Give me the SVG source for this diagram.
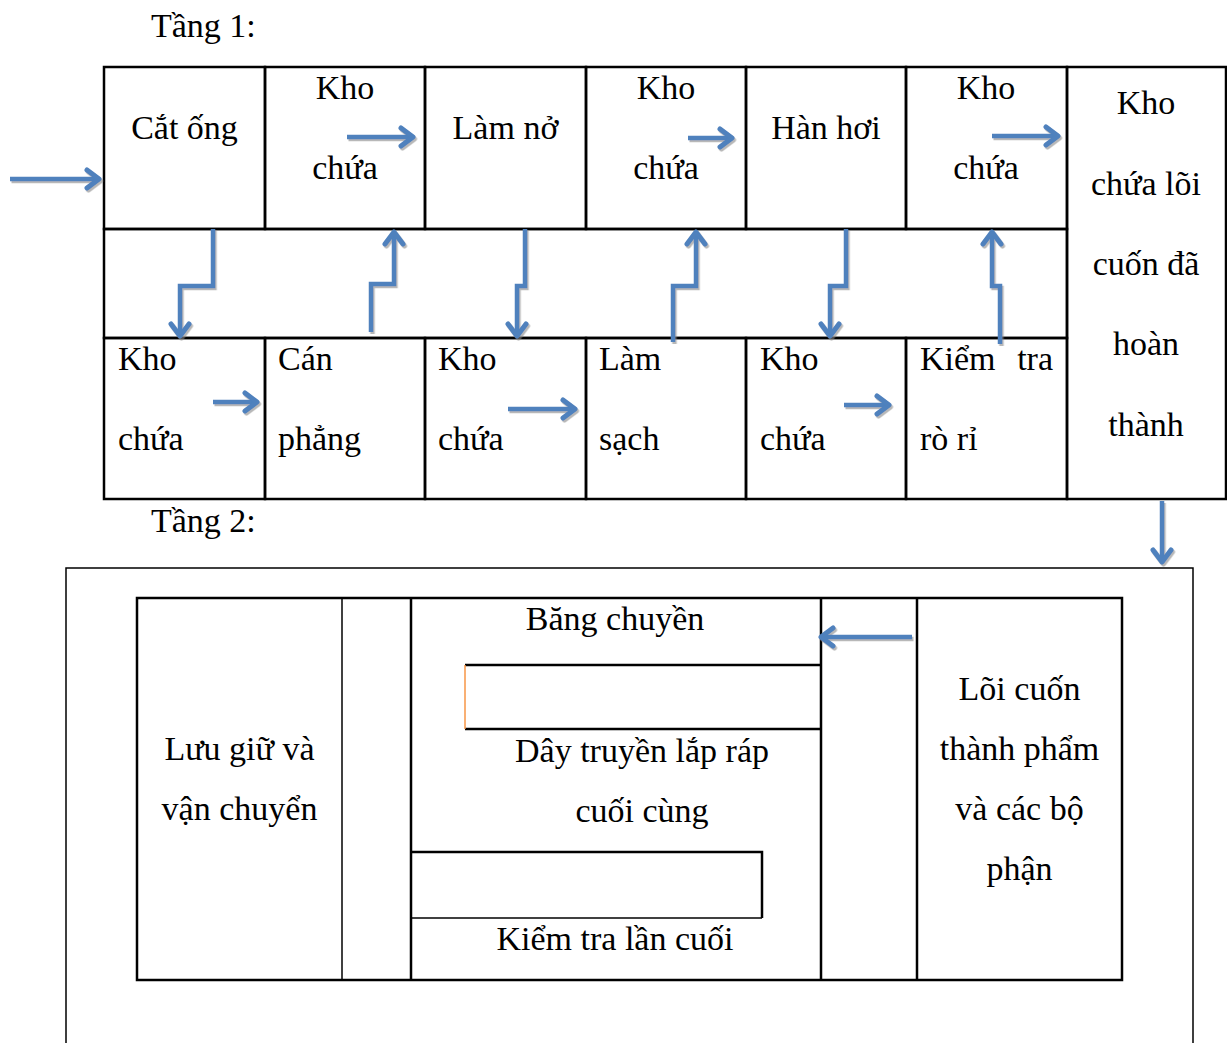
<svg xmlns="http://www.w3.org/2000/svg" width="1227" height="1043" viewBox="0 0 1227 1043">
<style>
text{font-family:"Liberation Serif","Times New Roman",serif;font-size:34px;fill:#000}
.c{text-anchor:middle}
.e{text-anchor:end}
.cell{fill:none;stroke:#000;stroke-width:2.5}
.thin{fill:none;stroke:#000;stroke-width:1.5}
.arr{fill:none;stroke:#4F81BD;stroke-width:4.5;marker-end:url(#ah)}
</style>
<defs>
<marker id="ah" markerUnits="userSpaceOnUse" markerWidth="40" markerHeight="40" refX="0" refY="0" orient="auto" overflow="visible">
<path d="M-12,-9 L0,0 L-12,9" fill="none" stroke="#4F81BD" stroke-width="5" stroke-linecap="round" stroke-linejoin="round"/>
</marker>
<filter id="sh" filterUnits="userSpaceOnUse" x="0" y="0" width="1227" height="1043">
<feDropShadow dx="1.5" dy="2" stdDeviation="0.6" flood-color="#888" flood-opacity="0.6"/>
</filter>
</defs>
<rect width="1227" height="1043" fill="#fff"/>

<text id="t1" x="151" y="37">Tầng 1:</text>
<text id="t2" x="151" y="532">Tầng 2:</text>

<g id="cat-ong"><rect class="cell" x="104" y="67" width="161" height="162"/><text class="c" x="184.5" y="139">Cắt ống</text></g>
<g id="kho1"><rect class="cell" x="265" y="67" width="160" height="162"/><text class="c" x="345" y="99">Kho</text><text class="c" x="345" y="179">chứa</text></g>
<g id="lam-no"><rect class="cell" x="425" y="67" width="161" height="162"/><text class="c" x="505.5" y="139">Làm nở</text></g>
<g id="kho2"><rect class="cell" x="586" y="67" width="160" height="162"/><text class="c" x="666" y="99">Kho</text><text class="c" x="666" y="179">chứa</text></g>
<g id="han-hoi"><rect class="cell" x="746" y="67" width="160" height="162"/><text class="c" x="826" y="139">Hàn hơi</text></g>
<g id="kho3"><rect class="cell" x="906" y="67" width="161" height="162"/><text class="c" x="986" y="99">Kho</text><text class="c" x="986" y="179">chứa</text></g>
<g id="strip"><rect class="cell" x="104" y="229" width="963" height="109"/></g>
<g id="kho-loi"><rect class="cell" x="1067" y="67" width="159" height="432"/>
<text class="c" x="1146" y="114">Kho</text><text class="c" x="1146" y="195">chứa lõi</text><text class="c" x="1146" y="275">cuốn đã</text><text class="c" x="1146" y="355">hoàn</text><text class="c" x="1146" y="436">thành</text></g>

<g id="kho4"><rect class="cell" x="104" y="338" width="161" height="161"/><text x="118" y="370">Kho</text><text x="118" y="450">chứa</text></g>
<g id="can-phang"><rect class="cell" x="265" y="338" width="160" height="161"/><text x="278" y="370">Cán</text><text x="278" y="450">phẳng</text></g>
<g id="kho5"><rect class="cell" x="425" y="338" width="161" height="161"/><text x="438" y="370">Kho</text><text x="438" y="450">chứa</text></g>
<g id="lam-sach"><rect class="cell" x="586" y="338" width="160" height="161"/><text x="599" y="370">Làm</text><text x="599" y="450">sạch</text></g>
<g id="kho6"><rect class="cell" x="746" y="338" width="160" height="161"/><text x="760" y="370">Kho</text><text x="760" y="450">chứa</text></g>
<g id="kiem-tra"><rect class="cell" x="906" y="338" width="161" height="161"/><text x="920" y="370">Kiểm</text><text class="e" x="1053" y="370">tra</text><text x="920" y="450">rò rỉ</text></g>

<g id="tang2">
<path class="thin" d="M66,1043 V568 H1193 V1043"/>
<rect class="cell" x="137" y="598" width="985" height="382"/>
<line class="thin" x1="342" y1="598" x2="342" y2="980"/>
<line class="cell" x1="411" y1="598" x2="411" y2="980"/>
<line class="cell" x1="821" y1="598" x2="821" y2="980"/>
<line class="cell" x1="917" y1="598" x2="917" y2="980"/>
</g>
<g id="luu-giu"><text class="c" x="239.5" y="760">Lưu giữ và</text><text class="c" x="239.5" y="820">vận chuyển</text></g>
<g id="bang-chuyen"><text class="c" x="615" y="630">Băng chuyền</text>
<line class="cell" x1="465" y1="665" x2="821" y2="665"/><line class="cell" x1="465" y1="729" x2="821" y2="729"/>
<line x1="465" y1="665" x2="465" y2="729" stroke="#F79646" stroke-width="1.5"/></g>
<g id="day-truyen"><text class="c" x="642" y="762">Dây truyền lắp ráp</text><text class="c" x="642" y="822">cuối cùng</text></g>
<g id="kiem-tra-cuoi"><path class="cell" d="M411,852 H762 V918"/><line class="thin" x1="411" y1="918" x2="762" y2="918"/>
<text class="c" x="615" y="950">Kiểm tra lần cuối</text></g>
<g id="loi-cuon"><text class="c" x="1019.5" y="700">Lõi cuốn</text><text class="c" x="1019.5" y="760">thành phẩm</text><text class="c" x="1019.5" y="820">và các bộ</text><text class="c" x="1019.5" y="880">phận</text></g>

<g id="connectors" filter="url(#sh)">
<path class="arr" d="M10,179 H99"/>
<path class="arr" d="M347,137 H413"/>
<path class="arr" d="M688,138 H732"/>
<path class="arr" d="M992,136 H1058"/>
<path class="arr" d="M213,402 H257"/>
<path class="arr" d="M508,409 H575"/>
<path class="arr" d="M844,405 H889"/>
<path class="arr" d="M213,229 V286 H180 V336"/>
<path class="arr" d="M371,332 V284 H394 V232"/>
<path class="arr" d="M525,229 V286 H517 V336"/>
<path class="arr" d="M673,342 V286 H696 V232"/>
<path class="arr" d="M846,229 V286 H830 V336"/>
<path class="arr" d="M1000,344 V286 H992 V232"/>
<path class="arr" d="M1162,501 V562"/>
<path class="arr" d="M912,637 H821"/>
</g>
</svg>
